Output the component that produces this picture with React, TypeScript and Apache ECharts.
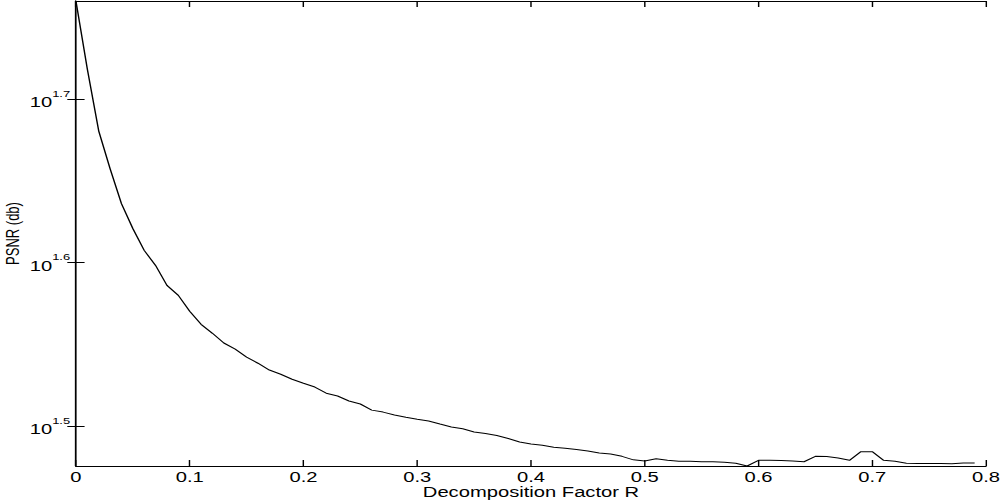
import React, { useEffect, useRef } from "react";
import * as echarts from "echarts";

const rValues = [
  0.0, 0.01, 0.02, 0.03, 0.04, 0.05, 0.06, 0.07, 0.08, 0.09,
  0.1, 0.11, 0.12, 0.13, 0.14, 0.15, 0.16, 0.17, 0.18, 0.19,
  0.2, 0.21, 0.22, 0.23, 0.24, 0.25, 0.26, 0.27, 0.28, 0.29,
  0.3, 0.31, 0.32, 0.33, 0.34, 0.35, 0.36, 0.37, 0.38, 0.39,
  0.4, 0.41, 0.42, 0.43, 0.44, 0.45, 0.46, 0.47, 0.48, 0.49,
  0.5, 0.51, 0.52, 0.53, 0.54, 0.55, 0.56, 0.57, 0.58, 0.59,
  0.6, 0.61, 0.62, 0.63, 0.64, 0.65, 0.66, 0.67, 0.68, 0.69,
  0.7, 0.71, 0.72, 0.73, 0.74, 0.75, 0.76, 0.77, 0.78, 0.79,
];

const psnrDb = [
  57.58, 52.32, 47.95, 45.46, 43.27, 41.78, 40.51, 39.66, 38.56, 38.02,
  37.18, 36.5, 36.04, 35.55, 35.24, 34.85, 34.55, 34.22, 34.02, 33.78,
  33.59, 33.41, 33.12, 32.99, 32.76, 32.62, 32.34, 32.25, 32.12, 32.02,
  31.93, 31.85, 31.71, 31.58, 31.5, 31.36, 31.29, 31.2, 31.07, 30.92,
  30.83, 30.78, 30.69, 30.65, 30.59, 30.53, 30.44, 30.4, 30.3, 30.15,
  30.1, 30.2, 30.13, 30.09, 30.09, 30.07, 30.07, 30.05, 30.01, 29.89,
  30.13, 30.13, 30.12, 30.1, 30.07, 30.3, 30.29, 30.23, 30.13, 30.5,
  30.5, 30.13, 30.09, 30.01, 30.0, 30.0, 30.0, 29.99, 30.02, 30.02,
];

// y tick positions as exponents of 10 (log10 scale)
const yTickExponents = [1.5, 1.6, 1.7];
const xTickValues = [0, 0.1, 0.2, 0.3, 0.4, 0.5, 0.6, 0.7, 0.8];

const xAxisName = "Decomposition Factor R";
const yAxisName = "PSNR (db)";

const FONT = "'Liberation Sans', Arial, Helvetica, sans-serif";
const INNER_W = 694;
const STRETCH = 1000 / INNER_W;

export default function App() {
  const ref = useRef<HTMLDivElement>(null);

  useEffect(() => {
    document.body.style.margin = "0";
    if (!ref.current) return;
    const chart = echarts.init(ref.current, undefined, { renderer: "svg" });

    const logs = psnrDb.map((v) => Math.log10(v));
    const yMin = Math.min(...logs);
    const yMax = Math.max(...logs);
    const data = rValues.map((r, i) => [r, logs[i]]);

    const axisLineStyle = { color: "#000", width: 1 };

    const xBase = {
      type: "value" as const,
      min: 0,
      max: 0.8,
      interval: 0.1,
      axisLine: { show: true, lineStyle: axisLineStyle },
      axisTick: { show: true, inside: true, length: 6, lineStyle: axisLineStyle, customValues: xTickValues },
      splitLine: { show: false },
    };
    const yBase = {
      type: "value" as const,
      min: yMin,
      max: yMax,
      axisLine: { show: true, lineStyle: axisLineStyle },
      axisTick: { show: true, inside: true, length: 6, lineStyle: axisLineStyle, customValues: yTickExponents },
      splitLine: { show: false },
    };

    chart.setOption({
      animation: false,
      backgroundColor: "#fff",
      grid: {
        left: 52.7,
        right: 9.7,
        top: 1,
        bottom: 35,
        containLabel: false,
        outerBoundsMode: "none",
      },
      xAxis: [
        {
          ...xBase,
          position: "bottom",
          name: xAxisName,
          nameLocation: "middle",
          nameGap: 19,
          nameMoveOverlap: false,
          nameTextStyle: { fontFamily: FONT, fontSize: 14, color: "#000" },
          axisLabel: {
            show: true,
            customValues: xTickValues,
            margin: 4,
            fontFamily: FONT,
            fontSize: 14,
            color: "#000",
            formatter: (v: number) => String(Math.round(v * 10) / 10),
          },
        },
        {
          ...xBase,
          position: "top",
          axisLabel: { show: false },
        },
      ],
      yAxis: [
        {
          ...yBase,
          position: "left",
          name: yAxisName,
          nameLocation: "middle",
          nameGap: 38,
          nameMoveOverlap: false,
          nameTextStyle: { fontFamily: FONT, fontSize: 13, color: "#000" },
          axisLabel: {
            show: true,
            customValues: yTickExponents,
            margin: 4,
            color: "#000",
            formatter: (v: number) => `{b|10}{s|${v.toFixed(1)}}`,
            rich: {
              b: { fontFamily: FONT, fontSize: 14, color: "#000", lineHeight: 20, verticalAlign: "bottom" },
              s: { fontFamily: FONT, fontSize: 9, color: "#000", lineHeight: 10, verticalAlign: "top" },
            },
          },
        },
        {
          ...yBase,
          position: "right",
          axisLabel: { show: false },
        },
      ],
      series: [
        {
          type: "line",
          xAxisIndex: 0,
          yAxisIndex: 0,
          data,
          showSymbol: false,
          symbol: "none",
          lineStyle: { color: "#000", width: 1 },
          clip: true,
        },
      ],
    });

    return () => chart.dispose();
  }, []);

  return (
    <div style={{ width: 1000, height: 501, overflow: "hidden", background: "#fff" }}>
      <div
        ref={ref}
        style={{
          width: INNER_W,
          height: 501,
          transform: `scaleX(${STRETCH})`,
          transformOrigin: "0 0",
        }}
      />
    </div>
  );
}
